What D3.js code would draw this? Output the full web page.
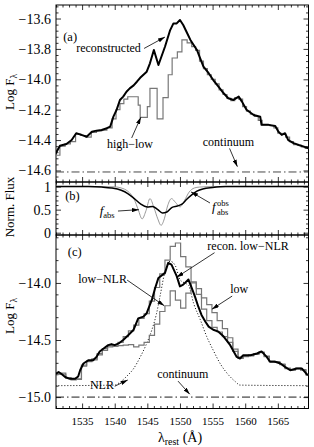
<!DOCTYPE html>
<html>
<head>
<meta charset="utf-8">
<script src="https://cdn.jsdelivr.net/npm/d3@7"></script>
<style>
body { margin: 0; background: #fff; }
text { font-family: "Liberation Serif", serif; fill: #000; }
</style>
</head>
<body>
<svg id="fig" width="314" height="447"></svg>
<script>
// ---- panel (a): reconstructed high-low spectrum ----
var lamRec = [1530.7, 1531.6, 1532.6, 1533.4, 1534.1, 1534.9, 1535.7, 1536.5, 1537.2, 1538.0,
    1538.8, 1539.3, 1539.8, 1540.3, 1540.8, 1541.3, 1541.8, 1542.3, 1542.9, 1543.4,
    1543.9, 1544.4, 1544.9, 1545.4, 1546.0, 1546.7, 1547.7, 1548.5, 1549.0, 1549.5,
    1550.0, 1550.5, 1551.0, 1551.6, 1552.6, 1553.1, 1553.6, 1554.4, 1555.1, 1555.9,
    1556.7, 1557.4, 1558.2, 1559.0, 1559.5, 1560.2, 1561.3, 1562.3, 1562.5, 1563.6,
    1564.6, 1565.1, 1565.6, 1566.1, 1566.6, 1567.4, 1568.2, 1569.0, 1569.7];
var fluxRec = [-14.509, -14.437, -14.426, -14.40, -14.355, -14.366, -14.378, -14.345, -14.338, -14.334,
    -14.322, -14.312, -14.246, -14.20, -14.136, -14.114, -14.082, -14.06, -14.04, -14.016,
    -13.99, -13.97, -13.95, -13.895, -13.807, -13.906, -13.786, -13.676, -13.632, -13.632,
    -13.61, -13.643, -13.687, -13.741, -13.807, -13.862, -13.917, -13.96, -14.005, -14.049,
    -14.092, -14.125, -14.136, -14.114, -14.147, -14.20, -14.235, -14.246, -14.30, -14.30,
    -14.307, -14.345, -14.366, -14.355, -14.40, -14.42, -14.432, -14.443, -14.454];

// high-low histogram: left bin edges and values
var hlLam = [1530.9, 1531.6, 1532.4, 1533.2, 1534.0, 1534.8, 1535.6, 1536.4, 1537.2, 1538.0,
    1538.8, 1539.6, 1540.2, 1540.8, 1541.4, 1542.0, 1543.6, 1543.9, 1545.0, 1545.4,
    1546.5, 1547.4, 1548.2, 1548.8, 1549.6, 1550.3, 1551.1, 1551.8, 1552.4, 1553.0,
    1553.6, 1554.2, 1554.8, 1555.4, 1556.0, 1556.6, 1557.2, 1557.8, 1558.4, 1559.0,
    1559.6, 1560.2, 1560.8, 1561.4, 1562.0, 1562.6, 1563.2, 1563.8, 1564.4, 1565.0,
    1565.6, 1566.2, 1566.8, 1567.4, 1568.0, 1568.6, 1569.2];
var hlFlux = [-14.50, -14.44, -14.425, -14.41, -14.36, -14.37, -14.38, -14.35, -14.34, -14.335,
    -14.32, -14.26, -14.20, -14.16, -14.13, -14.115, -14.17, -14.25, -14.18, -14.06,
    -14.26, -14.12, -13.97, -13.86, -13.82, -13.74, -13.76, -13.785, -13.81, -13.88,
    -13.93, -13.97, -14.00, -14.03, -14.07, -14.10, -14.125, -14.14, -14.12, -14.13,
    -14.18, -14.21, -14.23, -14.245, -14.27, -14.30, -14.30, -14.305, -14.32, -14.355,
    -14.36, -14.38, -14.41, -14.43, -14.435, -14.445, -14.455];
var contA = -14.61;

// ---- panel (b): absorption profiles ----
var lamAbs = [1530.9, 1538.0, 1540.0, 1541.0, 1542.0, 1543.0, 1543.6, 1544.2, 1544.8, 1545.4,
    1546.0, 1546.6, 1547.1, 1547.6, 1548.1, 1548.7, 1549.3, 1550.0, 1550.7, 1551.4,
    1552.2, 1553.0, 1555.0, 1569.7];
var fAbs = [1, 1, 0.995, 0.97, 0.9, 0.72, 0.5, 0.3, 0.48, 0.74,
    0.55, 0.3, 0.16, 0.3, 0.58, 0.74, 0.66, 0.56, 0.7, 0.88,
    0.97, 0.99, 1, 1];
var lamObs = [1530.9, 1536.0, 1538.0, 1539.5, 1541.0, 1542.0, 1543.0, 1544.0, 1545.0, 1545.8,
    1546.6, 1547.3, 1548.0, 1548.8, 1549.6, 1550.3, 1551.0, 1551.8, 1552.6, 1553.5,
    1555.0, 1557.0, 1569.7];
var fObs = [1, 1, 0.99, 0.97, 0.92, 0.85, 0.74, 0.62, 0.56, 0.57,
    0.5, 0.43, 0.45, 0.55, 0.58, 0.62, 0.72, 0.82, 0.9, 0.95,
    0.98, 1, 1];

// ---- panel (c): low state ----
var cLam = [1530.9, 1531.7, 1532.5, 1533.3, 1534.1, 1534.9, 1535.7, 1536.5, 1537.3, 1538.1,
    1538.9, 1539.7, 1540.5, 1541.3, 1542.1, 1542.9, 1543.7, 1544.5, 1545.3, 1546.1,
    1546.9, 1547.7, 1548.5, 1549.3, 1550.1, 1550.9, 1551.7, 1552.5, 1553.3, 1554.1,
    1554.9, 1555.7, 1556.5, 1557.3, 1558.1, 1558.9, 1559.7, 1560.5, 1561.3, 1562.1,
    1562.9, 1563.7, 1564.5, 1565.3, 1566.1, 1566.9, 1567.7, 1568.5, 1569.3];
var fluxLow = [-14.80, -14.79, -14.83, -14.845, -14.84, -14.72, -14.685, -14.665, -14.62, -14.575,
    -14.55, -14.545, -14.52, -14.47, -14.42, -14.37, -14.31, -14.27, -14.16, -14.04,
    -13.92, -13.80, -13.68, -13.65, -13.77, -13.86, -13.99, -14.05, -14.13, -14.19,
    -14.26, -14.33, -14.40, -14.48, -14.58, -14.65, -14.64, -14.63, -14.62, -14.605,
    -14.64, -14.685, -14.69, -14.71, -14.745, -14.76, -14.745, -14.76, -14.80];
var fluxLowNlr = [-14.80, -14.80, -14.835, -14.85, -14.845, -14.73, -14.69, -14.675, -14.63, -14.59,
    -14.56, -14.555, -14.55, -14.545, -14.54, -14.56, -14.545, -14.52, -14.46, -14.36,
    -14.25, -14.20, -14.07, -14.15, -14.22, -14.09, -14.00, -14.10, -14.23, -14.33,
    -14.39, -14.43, -14.47, -14.52, -14.60, -14.66, -14.645, -14.64, -14.625, -14.61,
    -14.645, -14.69, -14.695, -14.715, -14.75, -14.765, -14.75, -14.765, -14.805];
var lamRecC = [1530.9, 1531.4, 1531.9, 1532.4, 1533.1, 1533.9, 1534.4, 1534.7, 1535.2, 1536.0,
    1536.7, 1537.2, 1537.7, 1538.3, 1539.0, 1539.5, 1540.0, 1540.6, 1541.3, 1542.1,
    1542.9, 1543.6, 1544.4, 1544.9, 1545.7, 1546.2, 1546.7, 1547.7, 1548.2, 1548.7,
    1549.5, 1550.0, 1550.5, 1551.3, 1551.8, 1552.3, 1552.8, 1553.3, 1553.9, 1554.4,
    1555.1, 1555.9, 1556.7, 1557.7, 1558.7, 1559.2, 1559.7, 1560.8, 1561.8, 1562.5,
    1563.3, 1563.8, 1564.6, 1565.4, 1566.1, 1566.9, 1567.9, 1568.7, 1569.6];
var fluxRecC = [-14.80, -14.78, -14.80, -14.824, -14.84, -14.84, -14.82, -14.765, -14.706, -14.677,
    -14.677, -14.648, -14.60, -14.574, -14.545, -14.536, -14.545, -14.53, -14.50, -14.456,
    -14.41, -14.31, -14.295, -14.265, -14.147, -14.044, -13.956, -13.912, -13.824, -13.84,
    -13.94, -14.03, -14.015, -13.97, -14.044, -14.12, -14.206, -14.28, -14.34, -14.383,
    -14.41, -14.427, -14.47, -14.545, -14.648, -14.662, -14.633, -14.633, -14.618, -14.60,
    -14.648, -14.69, -14.69, -14.706, -14.735, -14.765, -14.75, -14.75, -14.81];
var lamNlr = [1530.9, 1540.0, 1540.8, 1541.8, 1542.9, 1543.9, 1544.9, 1545.7, 1546.4, 1547.0,
    1547.7, 1548.5, 1549.3, 1550.0, 1550.7, 1551.3, 1552.1, 1553.1, 1554.1, 1555.1,
    1556.2, 1557.2, 1558.5, 1559.2, 1569.7];
var fluxNlr = [-14.90, -14.895, -14.87, -14.82, -14.75, -14.65, -14.53, -14.41, -14.27, -14.10,
    -13.90, -13.81, -13.85, -13.97, -14.0, -14.02, -14.18, -14.32, -14.47, -14.59,
    -14.71, -14.79, -14.865, -14.895, -14.90];
var contC = -15.0;

// tick labels
var xTicks = [1535, 1540, 1545, 1550, 1555, 1560, 1565];
var yTicksA = [-14.6, -14.4, -14.2, -14.0, -13.8, -13.6];
var yTicksB = [0, 0.5, 1];
var yTicksC = [-15.0, -14.5, -14.0];

var lamMin = 1531, lamMax = 1569.7;
var left = 56, right = 308.5;

var svg = d3.select("#fig");

var x = d3.scaleLinear().domain([lamMin, lamMax]).range([left, right]);
var yA = d3.scaleLinear().domain([-14.676, -13.511]).range([182, 5]);
var yB = d3.scaleLinear().domain([-0.05, 1.1]).range([235, 182]);
var yC = d3.scaleLinear().domain([-15.1, -13.58]).range([408.5, 235]);

// arrow marker
svg.append("defs").append("marker")
    .attr("id", "arr")
    .attr("viewBox", "0 0 10 6")
    .attr("refX", 10).attr("refY", 3)
    .attr("markerWidth", 7).attr("markerHeight", 4.2)
    .attr("markerUnits", "userSpaceOnUse")
    .attr("orient", "auto")
    .append("path").attr("d", "M0,0L10,3L0,6z").attr("fill", "#000");

function minorTicks(lo, hi, step, majorStep) {
    var out = [];
    var n = Math.round((hi - lo) / step);
    for (var i = 0; i <= n; i++) {
        var v = lo + i * step;
        var r = v / majorStep;
        if (Math.abs(r - Math.round(r)) > 1e-6) out.push(v);
    }
    return out;
}

var xMinor = minorTicks(1531, 1569, 1, 5);

function styleAxis(g, size, family) {
    g.select(".domain").remove();
    g.selectAll("line").attr("stroke", "#000").attr("stroke-width", 0.8);
    g.selectAll("text").attr("font-family", family || "Liberation Serif").attr("font-size", size || 11);
}

function panel(y, yMajor, yMinor, yFmt, showX, clipId) {
    var y0 = y.range()[0], y1 = y.range()[1];
    var g = svg.append("g");

    g.append("clipPath").attr("id", clipId)
        .append("rect").attr("x", left).attr("y", y1)
        .attr("width", right - left).attr("height", y0 - y1);

    // x axes (bottom with labels for last panel, top mirror)
    var gb = g.append("g").attr("transform", "translate(0," + y0 + ")")
        .call(d3.axisBottom(x).tickValues(xTicks).tickSize(-5).tickPadding(8.5)
            .tickFormat(showX ? d3.format("d") : function() { return ""; }));
    styleAxis(gb, 11);
    var gbm = g.append("g").attr("transform", "translate(0," + y0 + ")")
        .call(d3.axisBottom(x).tickValues(xMinor).tickSize(-2.5).tickFormat(""));
    styleAxis(gbm);
    var gt = g.append("g").attr("transform", "translate(0," + y1 + ")")
        .call(d3.axisTop(x).tickValues(xTicks).tickSize(-5).tickFormat(""));
    styleAxis(gt);
    var gtm = g.append("g").attr("transform", "translate(0," + y1 + ")")
        .call(d3.axisTop(x).tickValues(xMinor).tickSize(-2.5).tickFormat(""));
    styleAxis(gtm);

    // y axes
    var gl = g.append("g").attr("transform", "translate(" + left + ",0)")
        .call(d3.axisLeft(y).tickValues(yMajor).tickSize(-5).tickPadding(5).tickFormat(yFmt));
    styleAxis(gl, 14, "DejaVu Serif");
    var glm = g.append("g").attr("transform", "translate(" + left + ",0)")
        .call(d3.axisLeft(y).tickValues(yMinor).tickSize(-2.5).tickFormat(""));
    styleAxis(glm);
    var gr = g.append("g").attr("transform", "translate(" + right + ",0)")
        .call(d3.axisRight(y).tickValues(yMajor).tickSize(-5).tickFormat(""));
    styleAxis(gr);
    var grm = g.append("g").attr("transform", "translate(" + right + ",0)")
        .call(d3.axisRight(y).tickValues(yMinor).tickSize(-2.5).tickFormat(""));
    styleAxis(grm);

    g.append("rect").attr("x", left).attr("y", y1)
        .attr("width", right - left).attr("height", y0 - y1)
        .attr("fill", "none").attr("stroke", "#000").attr("stroke-width", 1);

    return g.append("g").attr("clip-path", "url(#" + clipId + ")");
}

function steps(lams, vals) {
    var pts = d3.zip(lams, vals);
    pts.push([lamMax, vals[vals.length - 1]]);
    return pts;
}

function note(g, y, lam, val, str, size) {
    return g.append("text").attr("x", x(lam)).attr("y", y(val))
        .attr("font-size", size || 12).text(str);
}

function arrow(g, y, l0, v0, l1, v1, head) {
    var ln = g.append("line")
        .attr("x1", x(l0)).attr("y1", y(v0))
        .attr("x2", x(l1)).attr("y2", y(v1))
        .attr("stroke", "#000").attr("stroke-width", 0.8);
    if (head !== false) ln.attr("marker-end", "url(#arr)");
}

var fmt1 = d3.format(".1f");

// ---------------- panel (a) ----------------
var pa = panel(yA, yTicksA, minorTicks(-14.64, -13.52, 0.04, 0.2), fmt1, false, "clipA");
var lineA = d3.line().x(function(d) { return x(d[0]); }).y(function(d) { return yA(d[1]); });

pa.append("path").datum([[lamMin, contA], [lamMax, contA]])
    .attr("d", lineA).attr("fill", "none").attr("stroke", "#333").attr("stroke-width", 0.9)
    .attr("stroke-dasharray", "8,3,1.5,3");
pa.append("path").datum(steps(hlLam, hlFlux))
    .attr("d", lineA.curve(d3.curveStepAfter)).attr("fill", "none")
    .attr("stroke", "#777").attr("stroke-width", 1.2);
lineA.curve(d3.curveLinear);
pa.append("path").datum(d3.zip(lamRec, fluxRec))
    .attr("d", lineA).attr("fill", "none").attr("stroke", "#000").attr("stroke-width", 2)
    .attr("stroke-linejoin", "round");

var ga = svg.append("g");
note(ga, yA, 1532.1, -13.745, "(a)", 12.5);
note(ga, yA, 1534.1, -13.822, "reconstructed");
arrow(ga, yA, 1544.5, -13.797, 1547.7, -13.722);
note(ga, yA, 1538.8, -14.455, "high\u2212low");
arrow(ga, yA, 1542.6, -14.386, 1544.0, -14.25);
note(ga, yA, 1553.5, -14.44, "continuum");
arrow(ga, yA, 1557.6, -14.455, 1558.8, -14.575);

// ---------------- panel (b) ----------------
var pb = panel(yB, yTicksB, [0.1, 0.2, 0.3, 0.4, 0.6, 0.7, 0.8, 0.9], d3.format("~g"), false, "clipB");
var lineB = d3.line().x(function(d) { return x(d[0]); }).y(function(d) { return yB(d[1]); })
    .curve(d3.curveMonotoneX);

pb.append("path").datum(d3.zip(lamAbs, fAbs))
    .attr("d", lineB).attr("fill", "none").attr("stroke", "#999").attr("stroke-width", 1);
pb.append("path").datum(d3.zip(lamObs, fObs))
    .attr("d", lineB).attr("fill", "none").attr("stroke", "#000").attr("stroke-width", 1.5);

var gbn = svg.append("g");
note(gbn, yB, 1532.4, 0.7, "(b)", 12.5);
var fa = note(gbn, yB, 1537.7, 0.38, "", 13);
fa.append("tspan").attr("font-style", "italic").text("f");
fa.append("tspan").attr("font-size", 8.5).attr("dy", 3).text("abs");
arrow(gbn, yB, 1540.5, 0.47, 1543.7, 0.5);
var fo = note(gbn, yB, 1554.9, 0.47, "", 13);
fo.append("tspan").attr("font-style", "italic").text("f");
gbn.append("text").attr("x", x(1554.9) + 5).attr("y", yB(0.47) - 5)
    .attr("font-size", 8.5).text("obs");
gbn.append("text").attr("x", x(1554.9) + 5).attr("y", yB(0.47) + 4)
    .attr("font-size", 8.5).text("abs");
arrow(gbn, yB, 1554.6, 0.645, 1551.7, 0.885);

// ---------------- panel (c) ----------------
var pc = panel(yC, yTicksC, minorTicks(-15.0, -13.6, 0.1, 0.5), fmt1, true, "clipC");
var lineC = d3.line().x(function(d) { return x(d[0]); }).y(function(d) { return yC(d[1]); });

pc.append("path").datum([[lamMin, contC], [lamMax, contC]])
    .attr("d", lineC).attr("fill", "none").attr("stroke", "#000").attr("stroke-width", 0.9)
    .attr("stroke-dasharray", "8,3,1.5,3");
pc.append("path").datum(d3.zip(lamNlr, fluxNlr))
    .attr("d", lineC.curve(d3.curveMonotoneX)).attr("fill", "none")
    .attr("stroke", "#000").attr("stroke-width", 1).attr("stroke-dasharray", "1,2");
lineC.curve(d3.curveStepAfter);
pc.append("path").datum(steps(cLam, fluxLowNlr))
    .attr("d", lineC).attr("fill", "none").attr("stroke", "#777").attr("stroke-width", 1.2);
pc.append("path").datum(steps(cLam, fluxLow))
    .attr("d", lineC).attr("fill", "none").attr("stroke", "#777").attr("stroke-width", 1.2);
lineC.curve(d3.curveLinear);
pc.append("path").datum(d3.zip(lamRecC, fluxRecC))
    .attr("d", lineC).attr("fill", "none").attr("stroke", "#000").attr("stroke-width", 2)
    .attr("stroke-linejoin", "round");

var gc = svg.append("g");
note(gc, yC, 1532.8, -13.76, "(c)", 12.5);
note(gc, yC, 1554.2, -13.715, "recon. low\u2212NLR");
arrow(gc, yC, 1555.3, -13.735, 1549.5, -13.95);
note(gc, yC, 1534.4, -14.0, "low\u2212NLR");
arrow(gc, yC, 1541.9, -13.975, 1547.6, -14.2);
note(gc, yC, 1557.7, -14.09, "low");
arrow(gc, yC, 1558.0, -14.115, 1554.9, -14.23);
note(gc, yC, 1536.2, -14.93, "NLR");
arrow(gc, yC, 1540.0, -14.905, 1542.0, -14.85);
note(gc, yC, 1546.5, -14.835, "continuum");
arrow(gc, yC, 1549.7, -14.86, 1551.5, -14.975);

// ---------------- axis titles ----------------
function yTitle(cx, cy, parts) {
    var t = svg.append("text")
        .attr("transform", "translate(" + cx + "," + cy + ") rotate(-90)")
        .attr("text-anchor", "middle")
        .attr("font-family", "DejaVu Serif").attr("font-size", 13);
    parts.forEach(function(p) {
        var s = t.append("tspan").text(p[0]);
        if (p[1]) s.attr("font-size", 9.5).attr("dy", 3);
        else if (p[2]) s.attr("dy", -3);
    });
}
yTitle(14, 92, [["Log F"], ["\u03bb", true]]);
yTitle(14, 207, [["Norm. Flux"]]);
yTitle(14, 316, [["Log F"], ["\u03bb", true]]);

var xt = svg.append("text").attr("x", 180).attr("y", 442)
    .attr("text-anchor", "middle")
    .attr("font-family", "DejaVu Serif").attr("font-size", 14);
xt.append("tspan").text("\u03bb");
xt.append("tspan").attr("font-size", 10).attr("dy", 3).text("rest");
xt.append("tspan").attr("dy", -3).text(" (\u00c5)");
</script>
</body>
</html>
